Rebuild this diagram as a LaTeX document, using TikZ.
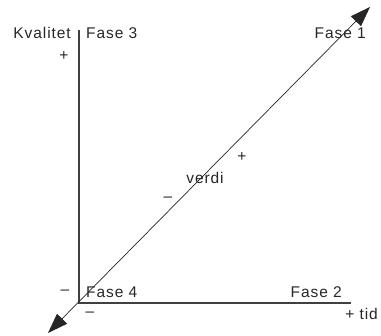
\documentclass[tikz,border=0pt]{standalone}
\usepackage{fontspec}
\setmainfont{Liberation Sans}
\newfontfamily\lblfont[LetterSpace=6]{Liberation Sans}
\usetikzlibrary{arrows.meta}
\begin{document}
\begin{tikzpicture}[x=1pt,y=-1pt,
  lbl/.style={inner sep=0pt,font=\lblfont\fontsize{15.5}{18}\selectfont,text=black!85},
  axis/.style={line width=1.1pt,draw=black!75},
  diag/.style={line width=0.7pt,draw=black!85,{Triangle[length=20pt,width=14pt]}-{Triangle[length=20pt,width=14pt]}}]
\useasboundingbox (0,0) rectangle (381,336);
\coordinate (O) at (79,303);
\coordinate (T) at (79,30);
\coordinate (R) at (351,303);
\coordinate (A) at (48,333);
\coordinate (B) at (370,7);
\draw[axis] (T) -- (O) -- (R);
\draw[diag] (A) -- (B);
\node[lbl,anchor=east] (kv) at (71,33) {Kvalitet};
\node[lbl,anchor=west] (f3) at (86,33) {Fase 3};
\node[lbl] (p1) at (64,56) {+};
\node[lbl,anchor=east] (f1) at (366,33) {Fase 1};
\node[lbl] (vd) at (205,178) {verdi};
\node[lbl] (p2) at (242,157) {+};
\node[lbl] (m1) at (168,199) {–};
\node[lbl,anchor=west] (f4) at (86,292) {Fase 4};
\node[lbl] (m2) at (65,292) {–};
\node[lbl] (m3) at (90,314) {–};
\node[lbl,anchor=east] (f2) at (342,292) {Fase 2};
\node[lbl,anchor=east] (td) at (378,314) {+ tid};
\end{tikzpicture}
\end{document}
